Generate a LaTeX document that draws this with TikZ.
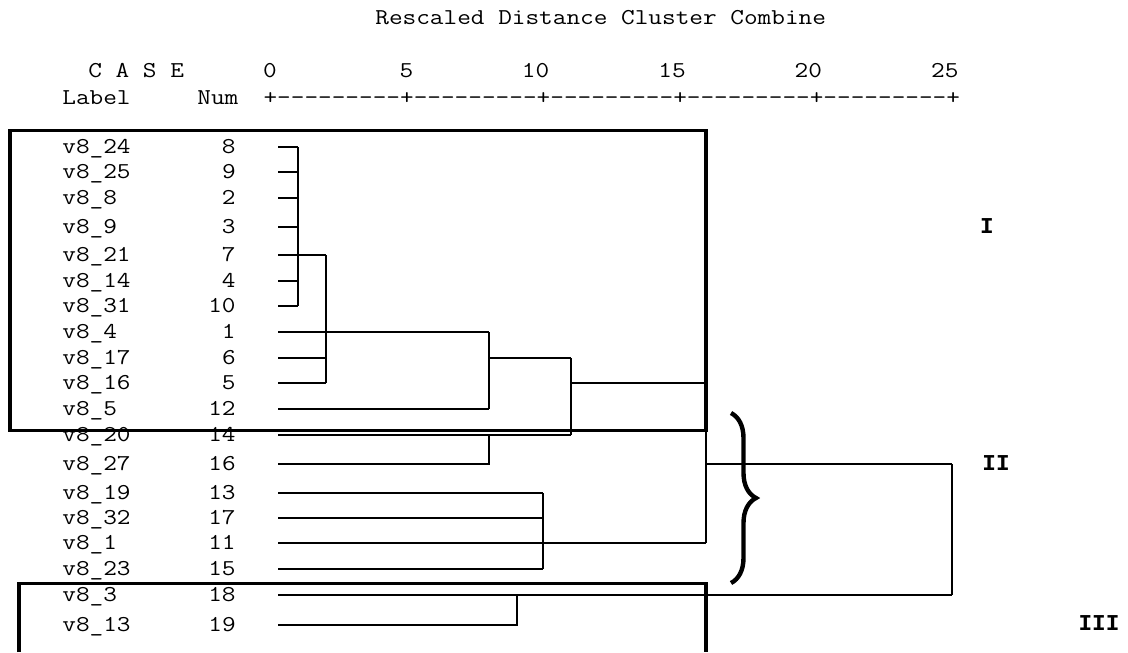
\documentclass[tikz,border=0pt]{standalone}
\usepackage{fontspec}
\setmonofont{Latin Modern Mono}[FakeStretch=1.17]
\newfontfamily\grpfont{Liberation Mono}
\usetikzlibrary{decorations.pathreplacing}

\tikzset{
  txt/.style={font=\ttfamily\fontsize{12.9}{14}\selectfont, inner sep=0pt},
  lbl/.style={txt, anchor=base west},
  num/.style={txt, anchor=base east},
  grp/.style={font=\grpfont\bfseries\fontsize{12.9}{14}\selectfont, inner sep=0pt},
  tree/.style={line width=0.7pt},
  frame/.style={line width=2pt},
}

\begin{document}
\begin{tikzpicture}[x=0.02cm, y=-0.02cm]
	\path[fill=white, use as bounding box] (0,0) rectangle (1128,652);

	% header
	\node[lbl] (title) at (375,25) {Rescaled Distance Cluster Combine};
	\node[lbl] (case) at (88,77.5) {C A S E};
	\node[lbl] (label) at (62,105) {Label};
	\node[lbl] (numhead) at (197,105) {Num};
	\node[lbl] (ruler) at (263.2,105) {+---------+---------+---------+---------+---------+};
	\node[txt, anchor=base] (t0) at (270,77.5) {0};
	\node[txt, anchor=base] (t5) at (406.4,77.5) {5};
	\node[num] (t10) at (549.6,77.5) {10};
	\node[num] (t15) at (686,77.5) {15};
	\node[num] (t20) at (822.4,77.5) {20};
	\node[num] (t25) at (958.8,77.5) {25};

	% cases
	\node[lbl] (c8) at (62,153.3) {v8\_24};  \node[num] (n8) at (236,153.3) {8};   \coordinate (e8) at (278,147);
	\node[lbl] (c9) at (62,178.3) {v8\_25};  \node[num] (n9) at (236,178.3) {9};   \coordinate (e9) at (278,172);
	\node[lbl] (c2) at (62,204.3) {v8\_8};   \node[num] (n2) at (236,204.3) {2};   \coordinate (e2) at (278,198);
	\node[lbl] (c3) at (62,233.3) {v8\_9};   \node[num] (n3) at (236,233.3) {3};   \coordinate (e3) at (278,227);
	\node[lbl] (c7) at (62,261.3) {v8\_21};  \node[num] (n7) at (236,261.3) {7};   \coordinate (e7) at (278,255);
	\node[lbl] (c4) at (62,287.3) {v8\_14};  \node[num] (n4) at (236,287.3) {4};   \coordinate (e4) at (278,281);
	\node[lbl] (c10) at (62,312.3) {v8\_31}; \node[num] (n10) at (236,312.3) {10}; \coordinate (e10) at (278,306);
	\node[lbl] (c1) at (62,338.3) {v8\_4};   \node[num] (n1) at (236,338.3) {1};   \coordinate (e1) at (278,332);
	\node[lbl] (c6) at (62,364.3) {v8\_17};  \node[num] (n6) at (236,364.3) {6};   \coordinate (e6) at (278,358);
	\node[lbl] (c5) at (62,389.3) {v8\_16};  \node[num] (n5) at (236,389.3) {5};   \coordinate (e5) at (278,383);
	\node[lbl] (c12) at (62,415.3) {v8\_5};  \node[num] (n12) at (236,415.3) {12}; \coordinate (e12) at (278,409);
	\node[lbl] (c14) at (62,441.3) {v8\_20}; \node[num] (n14) at (236,441.3) {14}; \coordinate (e14) at (278,435);
	\node[lbl] (c16) at (62,470.3) {v8\_27}; \node[num] (n16) at (236,470.3) {16}; \coordinate (e16) at (278,464);
	\node[lbl] (c13) at (62,499.3) {v8\_19}; \node[num] (n13) at (236,499.3) {13}; \coordinate (e13) at (278,493);
	\node[lbl] (c17) at (62,524.3) {v8\_32}; \node[num] (n17) at (236,524.3) {17}; \coordinate (e17) at (278,518);
	\node[lbl] (c11) at (62,549.3) {v8\_1};  \node[num] (n11) at (236,549.3) {11}; \coordinate (e11) at (278,543);
	\node[lbl] (c15) at (62,575.3) {v8\_23}; \node[num] (n15) at (236,575.3) {15}; \coordinate (e15) at (278,569);
	\node[lbl] (c18) at (62,601.3) {v8\_3};  \node[num] (n18) at (236,601.3) {18}; \coordinate (e18) at (278,595);
	\node[lbl] (c19) at (62,631.3) {v8\_13}; \node[num] (n19) at (236,631.3) {19}; \coordinate (e19) at (278,625);

	% merge levels
	\coordinate (mA) at (298,0);
	\coordinate (mB) at (326,0);
	\coordinate (mC) at (489,0);
	\coordinate (mH) at (517,0);
	\coordinate (mF) at (543,0);
	\coordinate (mD) at (571,0);
	\coordinate (mE) at (706,0);
	\coordinate (mG) at (952,0);

	% dendrogram
	\draw[tree] (e8) -- (e8 -| mA) (e9) -- (e9 -| mA) (e2) -- (e2 -| mA) (e3) -- (e3 -| mA)
		(e4) -- (e4 -| mA) (e10) -- (e10 -| mA) (e8 -| mA) -- (e10 -| mA);
	\draw[tree] (e7) -- (e7 -| mB) (e6) -- (e6 -| mB) (e5) -- (e5 -| mB) (e7 -| mB) -- (e5 -| mB);
	\draw[tree] (e1) -- (e1 -| mC) (e12) -- (e12 -| mC) (e1 -| mC) -- (e12 -| mC);
	\draw[tree] (e6 -| mC) -- (e6 -| mD) (e14) -- (e14 -| mD) (e6 -| mD) -- (e14 -| mD);
	\draw[tree] (e16) -- (e16 -| mC) -- (e14 -| mC);
	\draw[tree] (e13) -- (e13 -| mF) (e17) -- (e17 -| mF) (e15) -- (e15 -| mF) (e13 -| mF) -- (e15 -| mF);
	\draw[tree] (e5 -| mD) -- (e5 -| mE) (e11) -- (e11 -| mE) (e5 -| mE) -- (e11 -| mE);
	\draw[tree] (e19) -- (e19 -| mH) -- (e18 -| mH);
	\draw[tree] (e16 -| mE) -- (e16 -| mG) (e18) -- (e18 -| mG) (e16 -| mG) -- (e18 -| mG);

	% groups
	\draw[frame] (10,130.5) rectangle (706,430.5);
	\draw[frame] (19,652) -- (19,583.5) -- (706,583.5) -- (706,652);
	\draw[line width=2.5pt, decorate, decoration={brace, amplitude=0.5cm}] (731,413) -- (731,583);

	\node[grp] (g1) at (987,226) {I};
	\node[grp] (g2) at (996,463) {II};
	\node[grp] (g3) at (1099,623) {III};
\end{tikzpicture}
\end{document}
